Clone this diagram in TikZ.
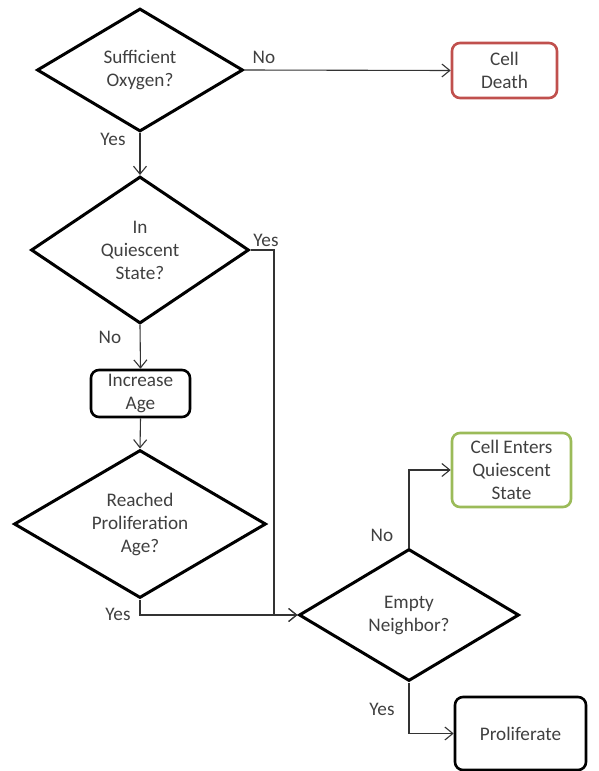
\documentclass[tikz,border=0pt]{standalone}
\usepackage{fontspec}
\setmainfont{Carlito}
\usetikzlibrary{shapes.geometric,arrows.meta}
\definecolor{deathred}{HTML}{C0504D}
\definecolor{quietgreen}{HTML}{9BBB59}
\definecolor{txtgray}{HTML}{404040}

\begin{document}
\begin{tikzpicture}[x=1pt,y=-1pt,
    font=\fontsize{19.2}{23}\selectfont, text=txtgray,
    decision/.style={diamond, aspect=1.7, draw=black, line width=3pt, align=center, inner sep=0pt},
    stepbox/.style={rectangle, rounded corners=8pt, draw=black, line width=2.6pt, align=center, inner sep=0pt},
    flow/.style={draw=black!80, line width=1.1pt, -{Straight Barb[length=8pt,width=13pt]}},
    lbl/.style={inner sep=0pt}]
    % Marco
    \useasboundingbox (0,0) rectangle (599,771);

    % Decisiones
    \node[decision, minimum width=206pt, minimum height=123pt] (oxygen) at (140,70) {Sufficient\\Oxygen?};
    \node[decision, minimum width=218pt, minimum height=147pt] (quiet) at (140,250) {In\\Quiescent\\State?};
    \node[decision, minimum width=252pt, minimum height=148pt] (reached) at (140,524) {Reached\\Proliferation\\Age?};
    \node[decision, minimum width=220pt, minimum height=132pt] (empty) at (409,615) {Empty\\Neighbor?};

    % Cajas
    \node[stepbox, draw=deathred, minimum width=105pt, minimum height=55pt] (death) at (504.5,70.5) {Cell\\Death};
    \node[stepbox, minimum width=99pt, minimum height=47pt] (age) at (140.5,393.5) {Increase\\Age};
    \node[stepbox, draw=quietgreen, minimum width=119pt, minimum height=74pt] (enters) at (511.5,470) {Cell Enters\\Quiescent\\State};
    \node[stepbox, minimum width=131pt, minimum height=73pt] (prolif) at (520.5,733.5) {Proliferate};

    % Esquina de la linea Yes
    \coordinate (join) at (274,615);

    % Conectores
    \draw[flow] (oxygen.east) -- (death.west);
    \draw[flow] (oxygen.south) -- (quiet.north);
    \draw[flow] (quiet.south) -- (age.north);
    \draw[flow] (age.south) -- (reached.north);
    \draw[flow] (quiet.east) -| (join) -- (empty.west);
    \draw[flow] (reached.south) |- (empty.west);
    \draw[flow] (empty.north) |- (enters.west);
    \draw[flow] (empty.south) |- (prolif.west);

    % Etiquetas
    \node[lbl] (noA) at (264,57) {No};
    \node[lbl] (yesA) at (113,139) {Yes};
    \node[lbl] (yesB) at (266,240) {Yes};
    \node[lbl] (noB) at (110,337) {No};
    \node[lbl] (yesC) at (118,614) {Yes};
    \node[lbl] (noC) at (382,535) {No};
    \node[lbl] (yesD) at (382,709) {Yes};
\end{tikzpicture}
\end{document}
